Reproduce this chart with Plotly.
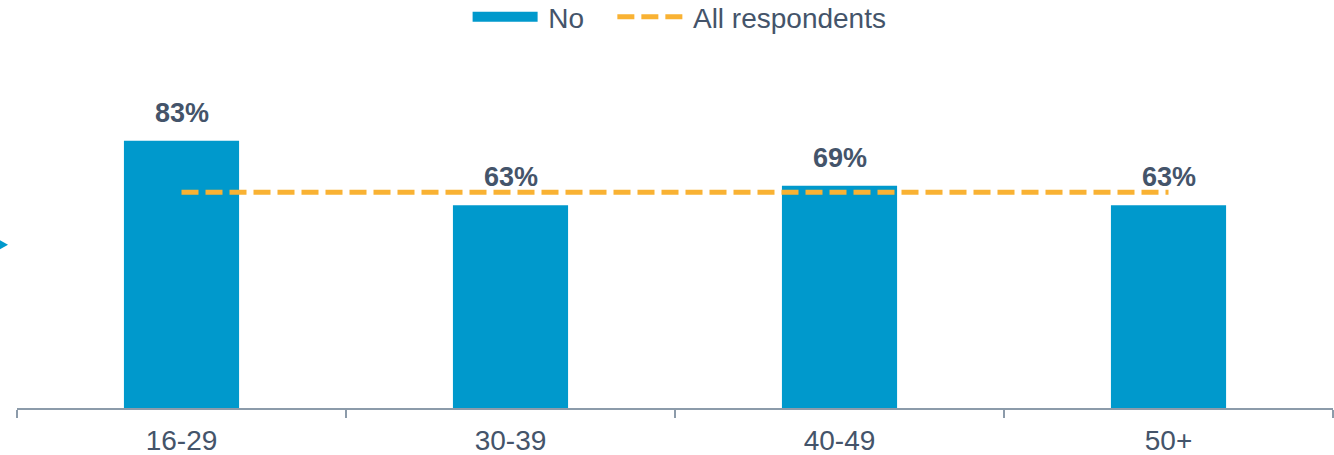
import plotly.graph_objects as go

# Age groups and share answering "No" (percent)
age_groups = ["16-29", "30-39", "40-49", "50+"]
no_share = [83, 63, 69, 63]
# Share across all respondents, drawn as a reference line
all_respondents = [67, 67, 67, 67]

BLUE = "#0099CC"
ORANGE = "#F9B233"
TEXT = "#44546A"
AXIS = "#8C9BAA"
FONT = "Liberation Sans, Arial, sans-serif"

W, H = 1334, 455
M_L, M_R, M_T, M_B = 17, 1, 40, 47
PLOT_H = H - M_T - M_B

fig = go.Figure()

fig.add_trace(go.Bar(
    x=age_groups, y=no_share, width=0.35,
    marker=dict(color=BLUE, line=dict(width=0)),
    showlegend=False, hoverinfo="skip",
))

# legend swatch for the bars (wide band)
fig.add_trace(go.Scatter(
    x=[None], y=[None], mode="lines",
    name="&#8201;No&nbsp;&nbsp;&nbsp;",
    line=dict(color=BLUE, width=11),
))

fig.add_trace(go.Scatter(
    x=age_groups, y=all_respondents, mode="lines",
    name="&#8201;All respondents",
    line=dict(color=ORANGE, width=5, dash="17px,7px"),
    hoverinfo="skip",
))

for cat, v in zip(age_groups, no_share):
    fig.add_annotation(
        x=cat, y=v, text=f"<b>{v}%</b>", showarrow=False,
        yanchor="bottom", yshift=11,
        font=dict(family=FONT, size=27, color=TEXT),
    )

# small pointer on the left edge
fig.add_shape(
    type="path", xref="paper", yref="paper",
    path="M -0.01291 0.4558 L -0.01291 0.4313 L -0.00683 0.4435 Z",
    fillcolor=BLUE, line=dict(width=0),
)

fig.update_layout(
    width=W, height=H,
    margin=dict(l=M_L, r=M_R, t=M_T, b=M_B, autoexpand=False),
    paper_bgcolor="white", plot_bgcolor="white",
    font=dict(family=FONT, size=28, color=TEXT),
    legend=dict(
        orientation="h", x=0.5035, xanchor="center",
        y=1 + 23 / PLOT_H, yanchor="middle",
        itemwidth=65, font=dict(size=28, color=TEXT),
        traceorder="normal", itemclick=False,
    ),
    xaxis=dict(
        type="category", range=[-0.5, 3.5],
        showline=True, linecolor=AXIS, linewidth=2,
        ticks="outside", tickson="boundaries", ticklen=8,
        tickcolor=AXIS, tickwidth=2,
        tickfont=dict(size=28, color=TEXT),
        ticklabelstandoff=6,
        showgrid=False, zeroline=False,
    ),
    yaxis=dict(
        range=[0, 114.3], visible=False, showgrid=False, zeroline=False,
    ),
)

fig.write_html("out.html")
